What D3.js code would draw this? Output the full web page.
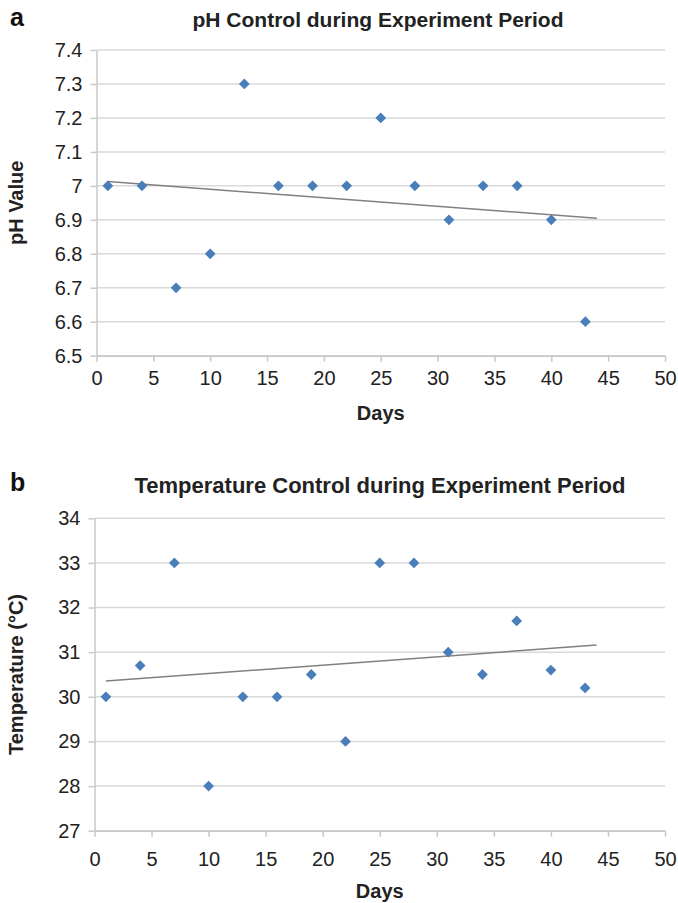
<!DOCTYPE html>
<html>
<head>
<meta charset="utf-8">
<script src="https://cdn.jsdelivr.net/npm/d3@7"></script>
<style>
  body { margin: 0; background: #fff; }
  text { font-family: "Liberation Sans", Arial, Helvetica, sans-serif; }
</style>
</head>
<body>
<div id="chart"></div>
<script>
// data
var days       = [1, 4, 7, 10, 13, 16, 19, 22, 25, 28, 31, 34, 37, 40, 43];
var phValues   = [7.0, 7.0, 6.7, 6.8, 7.3, 7.0, 7.0, 7.0, 7.2, 7.0, 6.9, 7.0, 7.0, 6.9, 6.6];
var tempValues = [30, 30.7, 33, 28, 30, 30, 30.5, 29, 33, 33, 31, 30.5, 31.7, 30.6, 30.2];
var dayTicks   = [0, 5, 10, 15, 20, 25, 30, 35, 40, 45, 50];
var phTicks    = [6.5, 6.6, 6.7, 6.8, 6.9, 7, 7.1, 7.2, 7.3, 7.4];
var tempTicks  = [27, 28, 29, 30, 31, 32, 33, 34];
var trendDays  = [1, 44];

var width  = 678;
var height = 903;

var svg = d3.select("#chart")
    .append("svg")
    .attr("width", width)
    .attr("height", height);

// least squares line
function linearFit(xs, ys) {
  var mx = d3.mean(xs), my = d3.mean(ys);
  var sxy = d3.sum(xs, function(v, i) { return (v - mx) * (ys[i] - my); });
  var sxx = d3.sum(xs, function(v) { return (v - mx) * (v - mx); });
  var slope = sxy / sxx;
  return function(v) { return my + slope * (v - mx); };
}

function drawPanel(opt) {
  var x = d3.scaleLinear()
      .domain(d3.extent(dayTicks))
      .range([opt.left, opt.right]);

  var y = d3.scaleLinear()
      .domain(d3.extent(opt.yTicks))
      .range([opt.bottom, opt.top]);

  var g = svg.append('g');

  // gridlines
  g.selectAll('line.grid')
      .data(opt.yTicks)
      .enter()
      .append('line')
      .attr('class', 'grid')
      .attr('x1', opt.left)
      .attr('x2', opt.right)
      .attr('y1', function(d) { return y(d) })
      .attr('y2', function(d) { return y(d) })
      .attr('stroke', '#d9d9d9')
      .attr('stroke-width', 1.5);

  var yAxis = g.append('g')
      .attr('transform', 'translate(' + opt.left + ',0)')
      .call(d3.axisLeft(y)
        .tickValues(opt.yTicks)
        .tickFormat(d3.format('~g'))
        .tickSize(6)
        .tickSizeOuter(0)
        .tickPadding(8));

  var xAxis = g.append('g')
      .attr('transform', 'translate(0,' + opt.bottom + ')')
      .call(d3.axisBottom(x)
        .tickValues(dayTicks)
        .tickSize(6)
        .tickSizeOuter(0)
        .tickPadding(opt.xPad));

  [yAxis, xAxis].forEach(function(ax) {
    ax.select('.domain').attr('stroke', '#c8c8c8').attr('stroke-width', 1.5);
    ax.selectAll('.tick line').attr('stroke', '#c8c8c8').attr('stroke-width', 1.5);
    ax.selectAll('.tick text')
      .attr('fill', '#222')
      .style('font-size', '20px');
  });

  // trend line
  var fit = linearFit(days, opt.values);
  g.append('line')
      .attr('x1', x(trendDays[0]))
      .attr('y1', y(fit(trendDays[0])))
      .attr('x2', x(trendDays[1]))
      .attr('y2', y(fit(trendDays[1])))
      .attr('stroke', '#808080')
      .attr('stroke-width', 1.5);

  // markers
  var diamond = d3.symbol().type(d3.symbolSquare).size(58);
  g.selectAll('path.pt')
      .data(days)
      .enter()
      .append('path')
      .attr('class', 'pt')
      .attr('d', diamond)
      .attr('transform', function(d, i) {
        return 'translate(' + x(d) + ',' + y(opt.values[i]) + ') rotate(45)';
      })
      .attr('fill', '#4a7ebb');

  // texts
  g.append('text')
      .attr('x', 10)
      .attr('y', opt.letterY)
      .attr('fill', '#111')
      .style('font-size', '25px')
      .style('font-weight', 'bold')
      .text(opt.letter);

  g.append('text')
      .attr('x', opt.titleX)
      .attr('y', opt.titleY)
      .attr('text-anchor', 'middle')
      .attr('fill', '#222')
      .style('font-size', opt.titleSize)
      .style('font-weight', 'bold')
      .text(opt.title);

  g.append('text')
      .attr('x', (opt.left + opt.right) / 2)
      .attr('y', opt.daysY)
      .attr('text-anchor', 'middle')
      .attr('fill', '#222')
      .style('font-size', '20px')
      .style('font-weight', 'bold')
      .text('Days');

  g.append('text')
      .attr('transform', 'translate(23,' + (opt.top + opt.bottom) / 2 + ') rotate(-90)')
      .attr('text-anchor', 'middle')
      .attr('fill', '#222')
      .style('font-size', '20px')
      .style('font-weight', 'bold')
      .text(opt.yLabel);
}

drawPanel({
  letter: 'a', letterY: 26,
  title: 'pH Control during Experiment Period', titleX: 378, titleY: 27, titleSize: '21px',
  yLabel: 'pH Value',
  values: phValues, yTicks: phTicks,
  left: 96.5, right: 665, top: 50, bottom: 355.7,
  xPad: 9, daysY: 420
});

drawPanel({
  letter: 'b', letterY: 491,
  title: 'Temperature Control during Experiment Period', titleX: 380, titleY: 493, titleSize: '22px',
  yLabel: 'Temperature (\u00b0C)',
  values: tempValues, yTicks: tempTicks,
  left: 94.5, right: 665, top: 518.3, bottom: 830.7,
  xPad: 15, daysY: 898
});
</script>
</body>
</html>
